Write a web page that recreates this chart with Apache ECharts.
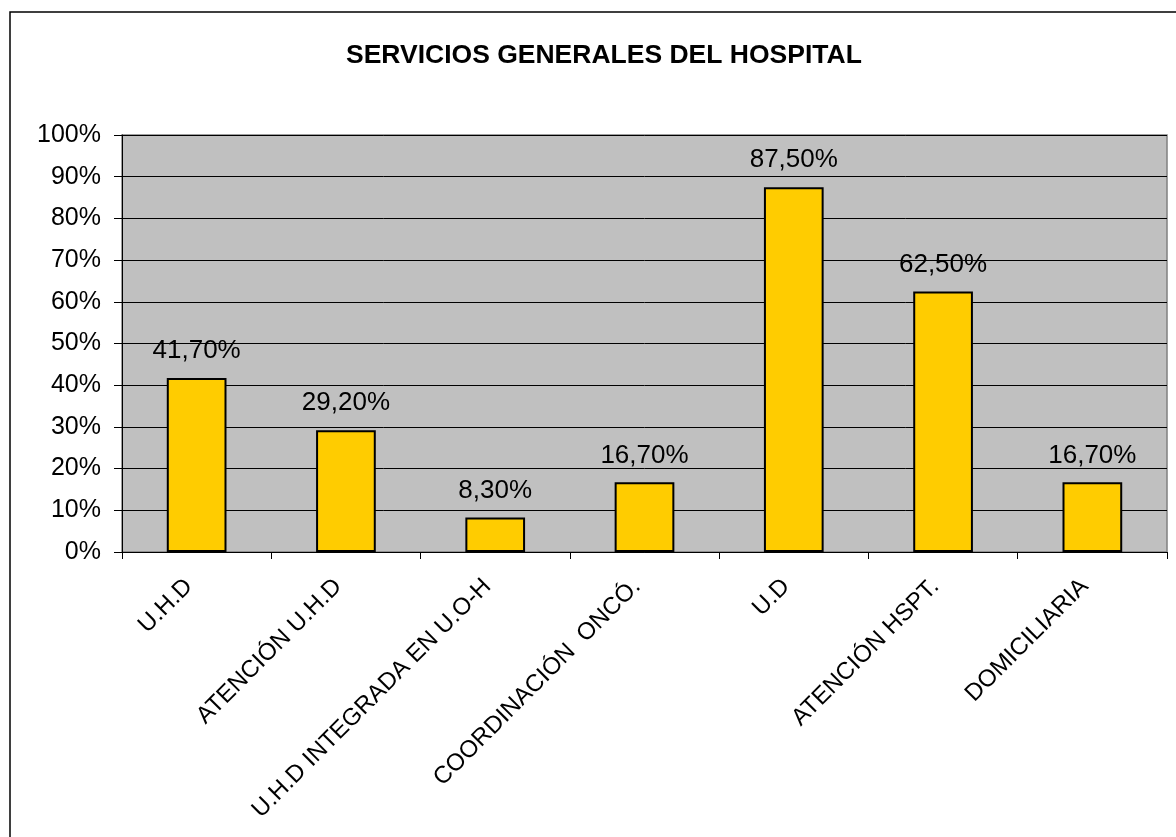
<!DOCTYPE html>
<html>
<head>
<meta charset="utf-8">
<script src="https://cdn.jsdelivr.net/npm/echarts@6/dist/echarts.min.js"></script>
<style>
  html, body { margin: 0; padding: 0; background: #fff; }
  #chart { width: 1176px; height: 837px; }
</style>
</head>
<body>
<div id="chart"></div>
<script>
// categorias y porcentajes
var categorias = ['U.H.D', 'ATENCIÓN U.H.D', 'U.H.D INTEGRADA EN U.O-H', 'COORDINACIÓN  ONCÓ.', 'U.D', 'ATENCIÓN HSPT.', 'DOMICILIARIA'];
var valores = [41.7, 29.2, 8.3, 16.7, 87.5, 62.5, 16.7];
var titulo = 'SERVICIOS GENERALES DEL HOSPITAL';

var dom = document.getElementById('chart');
var myChart = echarts.init(dom);
var fuente = '"Liberation Sans", Arial, sans-serif';

var option = {
    animation: false,
    textStyle: { fontFamily: fuente },
    title: {
        text: titulo,
        left: 341,
        top: 37,
        textStyle: { fontSize: 26.5, fontWeight: 'bold', color: '#000', fontFamily: fuente }
    },
    // marco exterior del grafico
    graphic: [{
        type: 'rect',
        shape: { x: 10, y: 12, width: 1200, height: 900 },
        style: { fill: 'none', stroke: '#000', lineWidth: 1.5 },
        silent: true
    }],
    grid: {
        left: 122,
        top: 135,
        right: 9,
        bottom: 285,
        show: true,
        backgroundColor: '#C0C0C0',
        borderColor: '#808080',
        borderWidth: 1.5
    },
    xAxis: {
        type: 'category',
        data: categorias,
        axisLine: { lineStyle: { color: '#000', width: 1 } },
        axisTick: { show: true, alignWithLabel: false, length: 7, lineStyle: { color: '#000' } },
        axisLabel: {
            rotate: 45,
            margin: 23,
            padding: [0, 11, 0, 0],
            fontSize: 24,
            color: '#000',
            fontFamily: fuente,
            interval: 0
        }
    },
    yAxis: {
        type: 'value',
        min: 0,
        max: 100,
        interval: 10,
        axisLine: { show: true, lineStyle: { color: '#000', width: 1 } },
        axisTick: { show: true, length: 8, lineStyle: { color: '#000' } },
        axisLabel: {
            fontSize: 25,
            color: '#000',
            margin: 21,
            fontFamily: fuente,
            formatter: '{value}%'
        },
        splitLine: { show: true, lineStyle: { color: '#000', width: 1 } }
    },
    series: [{
        type: 'bar',
        data: valores,
        barWidth: '40%',
        itemStyle: {
            color: '#FFCC00',
            borderColor: '#000',
            borderWidth: 2
        },
        label: {
            show: true,
            position: 'top',
            distance: 14,
            fontSize: 26,
            color: '#000',
            fontFamily: fuente,
            formatter: function (p) {
                return p.value.toFixed(2).replace('.', ',') + '%';
            }
        }
    }]
};

if (option && typeof option === "object") {
    myChart.setOption(option, true);
}
</script>
</body>
</html>
